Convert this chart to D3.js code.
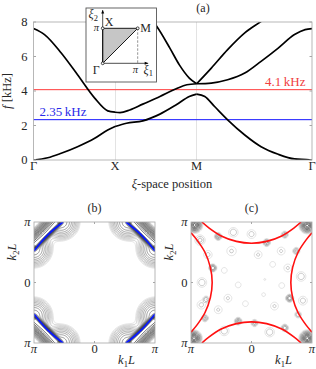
<!DOCTYPE html>
<html>
<head>
<meta charset="utf-8">
<script src="https://cdn.jsdelivr.net/npm/d3@7"></script>
<style>
  body { margin: 0; background: #fff; }
  svg, text { font-family: "Liberation Serif", "DejaVu Serif", serif; }
</style>
</head>
<body>
<svg id="fig" width="316" height="369"></svg>
<script>
// ---- data ----
const SQ2 = Math.SQRT2;
const symLabels = ["Γ", "X", "M", "Γ"];
const symPos = [0, 1, 2, 2 + SQ2];          // path length along Γ-X-M-Γ, in units of π
const fTicks = [0, 2, 4, 6, 8];

// dispersion bands, [s, f kHz]
const band1 = [[0, 0], [0.175, 0.13], [0.34, 0.39], [0.54, 0.77], [0.75, 1.26], [0.91, 1.74], [1, 1.94],
  [1.14, 2.13], [1.34, 2.27], [1.55, 2.66], [1.75, 3.2], [1.91, 3.68], [2, 3.82],
  [2.1, 3.68], [2.22, 3.1], [2.38, 2.33], [2.59, 1.45], [2.79, 0.77], [3.0, 0.33], [3.2, 0.06], [2 + SQ2, 0]];
const band2 = [[0, 7.62], [0.135, 7.27], [0.34, 6.2], [0.54, 4.94], [0.75, 3.59], [0.91, 2.85], [1, 2.77],
  [1.06, 2.75], [1.18, 2.9], [1.34, 3.24], [1.55, 3.68], [1.75, 4.13], [1.88, 4.36], [2, 4.42],
  [2.18, 4.46], [2.38, 4.65], [2.59, 5.04], [2.79, 5.72], [3.0, 6.49], [3.2, 7.27], [3.33, 7.56], [2 + SQ2, 7.62]];
const band3 = [[0, 10.5], [0.5, 10], [1, 9.4],
  [1.3, 8.9], [1.51, 7.75], [1.67, 6.5], [1.79, 5.5], [1.91, 4.75], [2, 4.42],
  [2.18, 5.33], [2.38, 6.4], [2.59, 7.37], [2.81, 8.1], [3.0, 8.8], [2 + SQ2, 10]];
const bands = [band1, band2, band3];

const redLevel = 4.1, blueLevel = 2.35;

// inset (irreducible Brillouin zone)
const insetTri = [[0, 0], [0, 1], [1, 1]];
const insetPts = [["Γ", 0, 0], ["X", 0, 1], ["M", 1, 1]];

// iso-frequency contours, k in units of π
const blueArc = [[-1, 0.52], [-0.88, 0.67], [-0.78, 0.78], [-0.67, 0.88], [-0.52, 1]];
const redArc = [[-0.82, 1.0], [-0.7, 0.9], [-0.5, 0.77], [-0.25, 0.68], [0, 0.65],
  [0.25, 0.68], [0.5, 0.77], [0.7, 0.9], [0.82, 1.0]];
const kTickLabels = ["π", "0", "π"];
const kTicks = [-1, 0, 1];

// spectral field of (b): ridge segment behind each corner arc (top-left corner, mirrored to the others)
const bSeg = [[-0.98, 0.62], [-0.62, 0.98]];
const bRidge = { wOut: 0.07, wIn: 0.028, wEnd: 0.04 };
const bHalo = [[-1.0, 0.55, 0.13, 0.15], [-0.55, 1.0, 0.13, 0.15]]; // [k1, k2, amp, width]
// spectral field of (c): peaks [k1, k2, amplitude, width]
const cPeaks = [
  [-0.94, 0.95, 1.5, 0.05], [0.92, 0.94, 1.5, 0.05], [-0.95, -0.92, 1.5, 0.05], [0.92, -0.92, 1.5, 0.05],
  [-0.55, 0.76, 0.35, 0.03], [0.25, 0.66, 0.35, 0.03], [0.55, 0.79, 0.25, 0.03], [-0.64, 0.24, 0.45, 0.03],
  [-0.75, -0.28, 0.2, 0.03], [0.63, -0.26, 0.45, 0.03], [0.74, 0.52, 0.25, 0.03], [0.77, -0.53, 0.2, 0.03],
  [-0.22, -0.64, 0.35, 0.03], [0.05, -0.67, 0.25, 0.03], [0.55, -0.75, 0.3, 0.03], [-0.77, -0.59, 0.25, 0.03],
  [-0.3, 0.83, 0.12, 0.05], [0.0, 0.8, 0.1, 0.05], [-0.82, 0.0, 0.12, 0.05], [0.82, 0.1, 0.12, 0.05],
  [-0.45, -0.8, 0.12, 0.05], [0.3, -0.82, 0.12, 0.05], [-0.85, 0.7, 0.15, 0.05], [0.85, -0.3, 0.1, 0.05],
  [-0.33, 0.52, 0.08, 0.06], [0.11, 0.46, 0.08, 0.05], [0.49, 0.52, 0.08, 0.05], [-0.39, -0.26, 0.08, 0.05],
  [0.38, -0.39, 0.08, 0.05], [0.22, 0.05, 0.05, 0.02], [-0.22, -0.04, 0.07, 0.04], [0.6, 0.24, 0.08, 0.05],
  [-0.72, 0.46, 0.09, 0.05], [-0.83, -0.37, 0.09, 0.05], [-0.45, 0.2, 0.07, 0.04], [0.35, 0.3, 0.07, 0.04],
  [-0.1, -0.35, 0.07, 0.04], [0.2, -0.2, 0.06, 0.03], [-0.55, -0.45, 0.08, 0.05], [0.5, -0.05, 0.07, 0.04]
];

// ---- drawing ----
const svg = d3.select("#fig").attr("font-family", "Liberation Serif, DejaVu Serif, serif");
const axisGray = "#a6a6a6";
const txt = "#262626";
const crisp = v => Math.floor(v) + 0.5;

// panel (a)
const x = d3.scaleLinear().domain([0, 2 + SQ2]).range([33.5, 312]);
const y = d3.scaleLinear().domain([0, 8]).range([160, 22]);

svg.append("clipPath").attr("id", "clipA")
  .append("rect").attr("x", x(0)).attr("y", y(8)).attr("width", x(2 + SQ2) - x(0)).attr("height", y(0) - y(8));

const gA = svg.append("g");
// grid at X and M
gA.selectAll("line.grid").data(symPos.slice(1, 3)).enter().append("line")
  .attr("x1", d => crisp(x(d))).attr("x2", d => crisp(x(d))).attr("y1", y(0)).attr("y2", y(8))
  .attr("stroke", "#e3e3e3").attr("stroke-width", 1);

// frequency levels (filled 1px strips so the colour stays clean)
gA.append("rect").attr("x", x(0)).attr("width", x(2 + SQ2) - x(0)).attr("y", Math.floor(y(redLevel))).attr("height", 1.2)
  .attr("fill", "#ff5a5a");
gA.append("rect").attr("x", x(0)).attr("width", x(2 + SQ2) - x(0)).attr("y", Math.floor(y(blueLevel))).attr("height", 1.2)
  .attr("fill", "#3b3bff");

// bands, each segment drawn on its own so kinks at X and M stay
const line = d3.line().x(d => x(d[0])).y(d => y(d[1])).curve(d3.curveMonotoneX);
const gBands = gA.append("g").attr("clip-path", "url(#clipA)");
bands.forEach(b => {
  for (let i = 0; i < 3; i++) {
    const seg = b.filter(p => p[0] >= symPos[i] - 1e-9 && p[0] <= symPos[i + 1] + 1e-9);
    gBands.append("path").attr("d", line(seg)).attr("fill", "none")
      .attr("stroke", "#000").attr("stroke-width", 1.7);
  }
});

// box and ticks
gA.append("rect").attr("x", x(0)).attr("y", y(8)).attr("width", x(2 + SQ2) - x(0)).attr("height", y(0) - y(8))
  .attr("fill", "none").attr("stroke", axisGray).attr("stroke-width", 0.8);
fTicks.forEach(t => {
  gA.append("line").attr("x1", x(0)).attr("x2", x(0) + 2.5).attr("y1", y(t)).attr("y2", y(t)).attr("stroke", axisGray);
  gA.append("line").attr("x1", x(2 + SQ2)).attr("x2", x(2 + SQ2) - 2.5).attr("y1", y(t)).attr("y2", y(t)).attr("stroke", axisGray);
  gA.append("text").attr("x", 27.5).attr("y", y(t) + 4).attr("text-anchor", "end")
    .attr("font-size", 12.5).attr("fill", txt).text(t);
});
symPos.forEach((s, i) => {
  gA.append("text").attr("x", x(s)).attr("y", 170).attr("text-anchor", "middle")
    .attr("font-size", 12.5).attr("fill", txt).text(symLabels[i]);
});
gA.append("text").attr("x", 172).attr("y", 187.5).attr("text-anchor", "middle").attr("font-size", 12.5).attr("fill", txt)
  .call(t => { t.append("tspan").attr("font-style", "italic").text("ξ"); t.append("tspan").text("-space position"); });
gA.append("text").attr("transform", "translate(11,91) rotate(-90)").attr("text-anchor", "middle")
  .attr("font-size", 12.5).attr("fill", txt)
  .call(t => { t.append("tspan").attr("font-style", "italic").text("f"); t.append("tspan").text(" [kHz]"); });
gA.append("text").attr("x", 203).attr("y", 12).attr("text-anchor", "middle").attr("font-size", 12).attr("fill", txt).text("(a)");
gA.append("text").attr("x", 305.5).attr("y", 85.5).attr("text-anchor", "end").attr("font-size", 13)
  .attr("fill", "#f04040").text("4.1\u2009kHz");
gA.append("text").attr("x", 39.5).attr("y", 115.5).attr("font-size", 13)
  .attr("fill", "#2a2ae8").text("2.35\u2009kHz");

// inset
const ix = d3.scaleLinear().domain([0, 1]).range([102.7, 137.7]);
const iy = d3.scaleLinear().domain([0, 1]).range([63.3, 28.3]);
const gI = svg.append("g");
gI.append("rect").attr("x", 86).attr("y", 8).attr("width", 70.5).attr("height", 74)
  .attr("fill", "#fff").attr("stroke", "#555").attr("stroke-width", 0.9);
gI.append("path").attr("d", d3.line().x(d => ix(d[0])).y(d => iy(d[1]))(insetTri) + "Z")
  .attr("fill", "#c6c6c6").attr("stroke", "#000").attr("stroke-width", 0.9);
gI.append("line").attr("x1", ix(1)).attr("x2", ix(1)).attr("y1", iy(1)).attr("y2", iy(0))
  .attr("stroke", "#888").attr("stroke-dasharray", "2.5,1.5").attr("stroke-width", 0.9);
// axes with arrows
gI.append("line").attr("x1", ix(0)).attr("x2", ix(1.3)).attr("y1", iy(0)).attr("y2", iy(0)).attr("stroke", "#000").attr("stroke-width", 0.7);
gI.append("line").attr("x1", ix(0)).attr("x2", ix(0)).attr("y1", iy(0)).attr("y2", iy(1.52)).attr("stroke", "#000").attr("stroke-width", 0.7);
gI.append("path").attr("d", `M${ix(1.3)},${iy(0)} l-3.5,-1.5 l0,3 z`).attr("fill", "#000");
gI.append("path").attr("d", `M${ix(0)},${iy(1.52)} l-1.5,3.5 l3,0 z`).attr("fill", "#000");
gI.selectAll("circle").data(insetPts).enter().append("circle")
  .attr("cx", d => ix(d[1])).attr("cy", d => iy(d[2])).attr("r", 1.4)
  .attr("fill", "#fff").attr("stroke", "#000").attr("stroke-width", 0.7);
const it = (px, py, s, fs, italic) => gI.append("text").attr("x", px).attr("y", py).attr("font-size", fs)
  .attr("fill", txt).attr("font-style", italic ? "italic" : null).text(s);
it(ix(0) + 2, iy(1) - 2.5, "X", 12);
it(ix(1) + 2.5, iy(1) + 4, "M", 12);
it(ix(0) - 10, iy(0) + 11, "Γ", 12);
it(ix(0) - 9, iy(1) + 2.5, "π", 10.5, true);
it(ix(1) - 5, iy(0) + 10, "π", 10.5, true);
gI.append("text").attr("x", 88.5).attr("y", 18).attr("font-size", 12).attr("fill", txt)
  .call(t => { t.append("tspan").attr("font-style", "italic").text("ξ"); t.append("tspan").attr("font-size", 8.5).attr("dy", 2.5).text("2"); });
gI.append("text").attr("x", 143.5).attr("y", 73.5).attr("font-size", 12).attr("fill", txt)
  .call(t => { t.append("tspan").attr("font-style", "italic").text("ξ"); t.append("tspan").attr("font-size", 8.5).attr("dy", 2.5).text("1"); });

// ---- panels (b) and (c) ----
const N = 151, LO = -1.1, HI = 1.1;
function fieldGrid(fn) {
  const v = new Float64Array(N * N);
  for (let j = 0; j < N; j++) for (let i = 0; i < N; i++)
    v[j * N + i] = fn(LO + (HI - LO) * i / (N - 1), LO + (HI - LO) * j / (N - 1));
  return v;
}
const mirrors = [[1, 1], [-1, 1], [1, -1], [-1, -1]];
function fieldB(k1, k2) {
  let v = 0;
  const [a, b] = bSeg;
  const ux = b[0] - a[0], uy = b[1] - a[1], len = Math.hypot(ux, uy);
  mirrors.forEach(([mx, my]) => {
    const q1 = k1 * mx, q2 = k2 * my;             // fold into the top-left corner
    const t = ((q1 - a[0]) * ux + (q2 - a[1]) * uy) / len;
    const n = ((q1 - a[0]) * uy - (q2 - a[1]) * ux) / len;
    const dt = t < 0 ? -t : (t > len ? t - len : 0);
    const w = -n > 0 ? bRidge.wOut : bRidge.wIn;
    v += Math.exp(-dt * dt / (2 * bRidge.wEnd ** 2) - n * n / (2 * w * w));
    bHalo.forEach(([h1, h2, amp, s]) => {
      v += amp * Math.exp(-((q1 - h1) ** 2 + (q2 - h2) ** 2) / (2 * s * s));
    });
  });
  return v;
}
function fieldC(k1, k2) {
  let v = 0;
  cPeaks.forEach(([a, b, amp, w]) => {
    v += amp * Math.exp(-((k1 - a) ** 2 + (k2 - b) ** 2) / (2 * w * w));
  });
  return v;
}

const levelsB = d3.range(20).map(i => 0.015 * Math.pow(0.95 / 0.015, i / 19));
const levelsC = [0.035, 0.07, 0.12, 0.2, 0.3, 0.45, 0.65, 0.85, 1.1, 1.35];

function drawMap(id, left, title, field, levels, arcs, arcColor, arcW) {
  const xs = d3.scaleLinear().domain([-1, 1]).range([left, left + 121]);
  const ys = d3.scaleLinear().domain([-1, 1]).range([343, 222]);
  const g = svg.append("g");
  g.append("clipPath").attr("id", id).append("rect")
    .attr("x", xs(-1)).attr("y", ys(1)).attr("width", 121).attr("height", 121);
  const g2k = c => LO + (HI - LO) * (c - 0.5) / (N - 1);
  const path = d3.geoPath(d3.geoTransform({ point(px, py) { this.stream.point(xs(g2k(px)), ys(g2k(py))); } }));
  const cs = d3.contours().size([N, N]).thresholds(levels)(fieldGrid(field));
  const col = d3.interpolateRgb("#d2d2d2", "#000");
  const gc = g.append("g").attr("clip-path", `url(#${id})`);
  gc.selectAll("path").data(cs).enter().append("path")
    .attr("d", path).attr("fill", "none")
    .attr("stroke", (d, i) => col(Math.pow(i / (levels.length - 1), 0.7)))
    .attr("stroke-width", 0.6);
  const arcLine = d3.line().x(d => xs(d[0])).y(d => ys(d[1])).curve(d3.curveCatmullRom);
  arcs.forEach(a => gc.append("path").attr("d", arcLine(a)).attr("fill", "none")
    .attr("stroke", arcColor).attr("stroke-width", arcW));
  g.append("rect").attr("x", xs(-1)).attr("y", ys(1)).attr("width", 121).attr("height", 121)
    .attr("fill", "none").attr("stroke", axisGray).attr("stroke-width", 0.8);
  // ticks at 0
  g.append("line").attr("x1", xs(0)).attr("x2", xs(0)).attr("y1", ys(1)).attr("y2", ys(1) + 2).attr("stroke", axisGray);
  g.append("line").attr("x1", xs(0)).attr("x2", xs(0)).attr("y1", ys(-1)).attr("y2", ys(-1) - 2).attr("stroke", axisGray);
  g.append("line").attr("x1", xs(-1)).attr("x2", xs(-1) + 2).attr("y1", ys(0)).attr("y2", ys(0)).attr("stroke", axisGray);
  g.append("line").attr("x1", xs(1)).attr("x2", xs(1) - 2).attr("y1", ys(0)).attr("y2", ys(0)).attr("stroke", axisGray);
  kTicks.forEach((k, i) => {
    g.append("text").attr("x", xs(-1) - 3.5).attr("y", ys(k) + 4).attr("text-anchor", "end")
      .attr("font-size", 12.5).attr("fill", txt).attr("font-style", i === 1 ? null : "italic").text(kTickLabels[i]);
    g.append("text").attr("x", xs(k)).attr("y", 353).attr("text-anchor", "middle")
      .attr("font-size", 12.5).attr("fill", txt).attr("font-style", i === 1 ? null : "italic").text(kTickLabels[i]);
  });
  g.append("text").attr("x", xs(0)).attr("y", 211.5).attr("text-anchor", "middle")
    .attr("font-size", 12).attr("fill", txt).text(title);
  g.append("text").attr("x", xs(0) + 32).attr("y", 364).attr("text-anchor", "middle").attr("font-size", 12.5).attr("fill", txt)
    .call(t => {
      t.append("tspan").attr("font-style", "italic").text("k");
      t.append("tspan").attr("font-size", 8.5).attr("dy", 2.5).text("1");
      t.append("tspan").attr("font-style", "italic").attr("dy", -2.5).text("L");
    });
  g.append("text").attr("transform", `translate(${xs(-1) - 18},252) rotate(-90)`).attr("text-anchor", "middle")
    .attr("font-size", 12.5).attr("fill", txt)
    .call(t => {
      t.append("tspan").attr("font-style", "italic").text("k");
      t.append("tspan").attr("font-size", 8.5).attr("dy", 2.5).text("2");
      t.append("tspan").attr("font-style", "italic").attr("dy", -2.5).text("L");
    });
}

const blueArcs = mirrors.map(([a, b]) => blueArc.map(p => [a * p[0], b * p[1]]));
const redArcs = [redArc, redArc.map(p => [p[0], -p[1]]), redArc.map(p => [-p[1], p[0]]), redArc.map(p => [p[1], p[0]])];
drawMap("clipB", 34, "(b)", fieldB, levelsB, blueArcs, "#0a1aff", 1.8);
drawMap("clipC", 191, "(c)", fieldC, levelsC, redArcs, "#ff1010", 1.6);
</script>
</body>
</html>
